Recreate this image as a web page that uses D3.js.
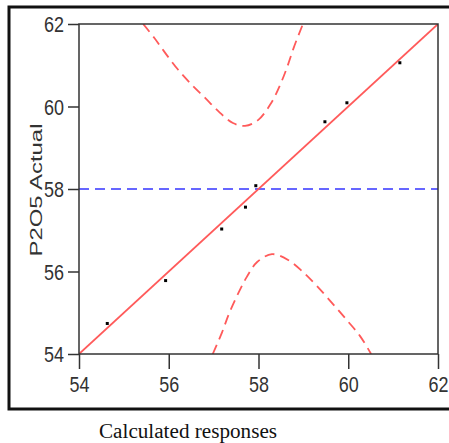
<!DOCTYPE html>
<html>
<head>
<meta charset="utf-8">
<script src="https://cdn.jsdelivr.net/npm/d3@7"></script>
<style>
  body { margin: 0; background: #fff; }
  svg { display: block; }
</style>
</head>
<body>
<div id="chart"></div>
<script>
// observed points (calculated vs actual P2O5)
const calcValues   = [54.63, 55.93, 57.18, 57.71, 57.94, 59.48, 59.97, 61.15];
const actualValues = [54.74, 55.78, 57.03, 57.56, 58.08, 59.63, 60.09, 61.06];

// confidence curves
const upperX = [55.43, 55.68, 55.92, 56.21, 56.52, 56.81, 57.12, 57.43, 57.70, 57.99, 58.28, 58.48, 58.64, 58.79, 58.99];
const upperY = [62.00, 61.66, 61.30, 60.89, 60.52, 60.21, 59.87, 59.60, 59.53, 59.67, 60.08, 60.52, 60.96, 61.44, 62.00];
const lowerX = [56.98, 57.19, 57.34, 57.54, 57.74, 57.97, 58.30, 58.66, 58.99, 59.30, 59.66, 59.97, 60.26, 60.51];
const lowerY = [54.00, 54.53, 54.97, 55.45, 55.87, 56.23, 56.42, 56.28, 55.99, 55.65, 55.21, 54.82, 54.44, 54.00];

const fitLine  = [54, 62];
const meanLine = 58;

const xTicks = [54, 56, 58, 60, 62];
const yTicks = [54, 56, 58, 60, 62];

const width = 449, height = 443;
const margin = { left: 79, top: 24, right: 11, bottom: 89 };
const innerWidth = width - margin.left - margin.right;
const innerHeight = height - margin.top - margin.bottom;

const svg = d3.select("#chart")
  .append("svg")
    .attr("width", width)
    .attr("height", height);

// outer frame
svg.append("rect")
  .attr("x", 9).attr("y", 7)
  .attr("width", 452).attr("height", 402)
  .attr("fill", "none")
  .attr("stroke", "#111")
  .attr("stroke-width", 3);

const xScale = d3.scaleLinear().domain([54, 62]).range([0, innerWidth]);
const yScale = d3.scaleLinear().domain([54, 62]).range([innerHeight, 0]);

const innerChart = svg.append("g")
  .attr("transform", `translate(${margin.left}, ${margin.top})`);

innerChart.append("clipPath")
    .attr("id", "plot-clip")
  .append("rect")
    .attr("width", innerWidth)
    .attr("height", innerHeight);

const plot = innerChart.append("g").attr("clip-path", "url(#plot-clip)");

// mean line
plot.append("line")
  .attr("x1", 0).attr("x2", innerWidth)
  .attr("y1", yScale(meanLine)).attr("y2", yScale(meanLine))
  .attr("stroke", "#3535ff")
  .attr("stroke-width", 1.6)
  .attr("stroke-dasharray", "10,6");

// fit line
plot.append("line")
  .attr("x1", xScale(fitLine[0])).attr("y1", yScale(fitLine[0]))
  .attr("x2", xScale(fitLine[1])).attr("y2", yScale(fitLine[1]))
  .attr("stroke", "#ff5a5a")
  .attr("stroke-width", 1.8);

// confidence curves
const curveGen = d3.line()
  .x(d => xScale(d[0]))
  .y(d => yScale(d[1]))
  .curve(d3.curveCatmullRom);

[d3.zip(upperX, upperY), d3.zip(lowerX, lowerY)].forEach(pts => {
  plot.append("path")
    .attr("d", curveGen(pts))
    .attr("fill", "none")
    .attr("stroke", "#ff5a5a")
    .attr("stroke-width", 1.8)
    .attr("stroke-dasharray", "10,6");
});

// points
plot.selectAll("rect.pt")
  .data(d3.zip(calcValues, actualValues))
  .join("rect")
    .attr("class", "pt")
    .attr("x", d => xScale(d[0]) - 1.5)
    .attr("y", d => yScale(d[1]) - 1.5)
    .attr("width", 3)
    .attr("height", 3)
    .attr("fill", "#000");

// plot frame
innerChart.append("rect")
  .attr("width", innerWidth)
  .attr("height", innerHeight)
  .attr("fill", "none")
  .attr("stroke", "#333")
  .attr("stroke-width", 1.5);

// axes
const tickFont = "'Liberation Sans Narrow', 'Arial Narrow', 'Liberation Sans', sans-serif";

const leftAxis = d3.axisLeft(yScale).tickValues(yTicks).tickSize(11).tickPadding(4);
const yAxisG = innerChart.append("g").call(leftAxis);

const bottomAxis = d3.axisBottom(xScale).tickValues(xTicks).tickSize(15).tickPadding(7);
const xAxisG = innerChart.append("g")
  .attr("transform", `translate(0, ${innerHeight})`)
  .call(bottomAxis);

[yAxisG, xAxisG].forEach(g => {
  g.select(".domain").remove();
  g.selectAll(".tick line").attr("stroke", "#333").attr("stroke-width", 1.5);
  g.selectAll(".tick text")
    .attr("fill", "#333")
    .style("font-family", tickFont)
    .style("font-size", "22px")
    .attr("textLength", 20)
    .attr("lengthAdjust", "spacingAndGlyphs");
});
yAxisG.selectAll(".tick text").attr("dy", "0.36em");

// axis titles
svg.append("text")
  .attr("transform", "translate(42, 190) rotate(-90)")
  .attr("text-anchor", "middle")
  .attr("fill", "#333")
  .style("font-family", "'Liberation Sans', Arial, sans-serif")
  .style("font-size", "17px")
  .attr("textLength", 133)
  .attr("lengthAdjust", "spacingAndGlyphs")
  .text("P2O5 Actual");

svg.append("text")
  .attr("x", 99)
  .attr("y", 438)
  .attr("fill", "#111")
  .style("font-family", "'Liberation Serif', 'Times New Roman', serif")
  .style("font-size", "20px")
  .attr("textLength", 178)
  .attr("lengthAdjust", "spacingAndGlyphs")
  .text("Calculated responses");
</script>
</body>
</html>
